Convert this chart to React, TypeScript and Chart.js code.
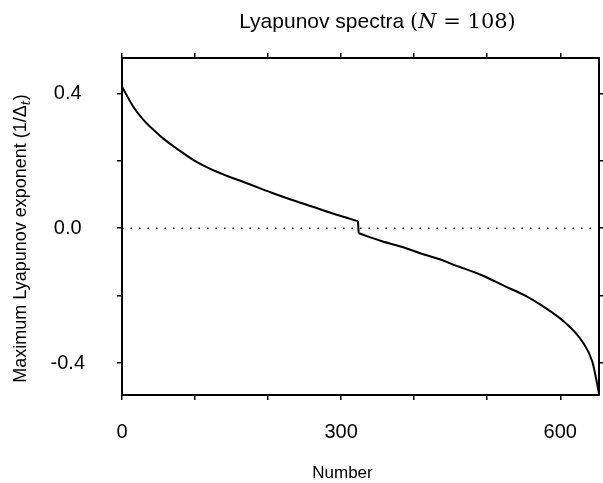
import React, { useEffect, useRef } from "react";
import { Chart, registerables } from "chart.js";

Chart.register(...registerables);

// ---- data ----
const titleText = "Lyapunov spectra";
const titleMath = ["(", "N", " = 108)"];
const xAxisTitle = "Number";
const yAxisTitleMain = "Maximum Lyapunov exponent (1/Δ";
const yAxisTitleSub = "t";
const yAxisTitleEnd = ")";

const xTickValues = [0, 100, 200, 300, 400, 500, 600];
const xLabelValues = [0, 300, 600];
const yTickValues = [-0.4, -0.2, 0, 0.2, 0.4];
const yLabelValues = [-0.4, 0, 0.4];

// positive half of the spectrum (exponent index, value)
const upperIndex = [0, 5, 15, 29, 43, 57, 75, 98, 121, 144, 169, 204, 231, 259, 295, 323];
const upperValue = [
  0.42, 0.4, 0.362, 0.322, 0.292, 0.265, 0.236, 0.202, 0.176, 0.155, 0.135,
  0.106, 0.085, 0.065, 0.039, 0.021,
];
// negative half of the spectrum
const lowerIndex = [324, 355, 387, 410, 435, 451, 492, 524, 552, 575, 607, 630, 644, 653];
const lowerValue = [
  -0.015, -0.038, -0.058, -0.076, -0.092, -0.106, -0.139, -0.172, -0.2, -0.23,
  -0.281, -0.336, -0.397, -0.49,
];
const zeroLineX = [0, 653];
const zeroLineY = [0, 0];

const X_MIN = 0;
const X_MAX = 653;
const Y_MIN = -0.495;
const Y_MAX = 0.505;

const SANS = '"Liberation Sans", Arial, sans-serif';
const SERIF = '"DejaVu Serif", "Liberation Serif", serif';

const textPlugin = {
  id: "customText",
  afterDraw(chart: any) {
    const ctx = chart.ctx as CanvasRenderingContext2D;
    const area = chart.chartArea;
    ctx.save();
    ctx.fillStyle = "#000";
    ctx.textBaseline = "alphabetic";
    ctx.textAlign = "left";

    // Title
    const segs: { t: string; f: string; w?: number }[] = [
      { t: titleText + " ", f: `21px ${SANS}` },
      { t: titleMath[0], f: `21px ${SERIF}` },
      { t: titleMath[1], f: `italic 21px ${SERIF}` },
      { t: titleMath[2], f: `21px ${SERIF}` },
    ];
    let total = 0;
    segs.forEach((s) => {
      ctx.font = s.f;
      s.w = ctx.measureText(s.t).width;
      total += s.w;
    });
    let x = (area.left + area.right) / 2 + 17 - total / 2;
    segs.forEach((s) => {
      ctx.font = s.f;
      ctx.fillText(s.t, x, 28);
      x += s.w as number;
    });

    // X axis title
    ctx.font = `17px ${SANS}`;
    ctx.textAlign = "center";
    ctx.fillText(xAxisTitle, (area.left + area.right) / 2 - 18, 478);

    // Y axis title (rotated, with subscript)
    ctx.save();
    ctx.translate(19, (area.top + area.bottom) / 2 + 12);
    ctx.rotate(-Math.PI / 2);
    ctx.textAlign = "left";
    const mainFont = `18px ${SANS}`;
    const subFont = `italic 12px ${SERIF}`;
    ctx.font = mainFont;
    const w1 = ctx.measureText(yAxisTitleMain).width;
    const w3 = ctx.measureText(yAxisTitleEnd).width;
    ctx.font = subFont;
    const w2 = ctx.measureText(yAxisTitleSub).width;
    const tot = w1 + w2 + w3;
    let tx = -tot / 2;
    ctx.font = mainFont;
    ctx.fillText(yAxisTitleMain, tx, 7);
    tx += w1;
    ctx.font = subFont;
    ctx.fillText(yAxisTitleSub, tx, 11);
    tx += w2;
    ctx.font = mainFont;
    ctx.fillText(yAxisTitleEnd, tx, 7);
    ctx.restore();

    ctx.restore();
  },
};

const gridOpts = {
  drawOnChartArea: false,
  drawTicks: true,
  tickLength: 5,
  color: "#000",
  lineWidth: 1.5,
};
const borderOpts = { display: true, color: "#000", width: 2 };

export default function App() {
  const canvasRef = useRef<HTMLCanvasElement | null>(null);

  useEffect(() => {
    if (!canvasRef.current) return;
    const upper = upperIndex.map((v, i) => ({ x: v, y: upperValue[i] }));
    const lower = lowerIndex.map((v, i) => ({ x: v, y: lowerValue[i] }));
    const jump = [upper[upper.length - 1], lower[0]];
    const zero = zeroLineX.map((v, i) => ({ x: v, y: zeroLineY[i] }));

    const curveStyle = {
      borderColor: "#000",
      borderWidth: 2,
      pointRadius: 0,
      fill: false,
      cubicInterpolationMode: "monotone",
      xAxisID: "x",
      yAxisID: "y",
    };

    const chart = new Chart(canvasRef.current, {
      type: "line",
      data: {
        datasets: [
          {
            data: zero,
            borderColor: "#000",
            borderWidth: 1.5,
            borderDash: [1.5, 7],
            pointRadius: 0,
            fill: false,
            xAxisID: "x",
            yAxisID: "y",
          },
          { data: upper, ...curveStyle },
          { data: jump, ...curveStyle, cubicInterpolationMode: "default", tension: 0 },
          { data: lower, ...curveStyle },
        ],
      },
      options: {
        responsive: false,
        animation: false,
        events: [],
        layout: { padding: 0 },
        plugins: {
          legend: { display: false },
          tooltip: { enabled: false },
          title: { display: false },
        },
        scales: {
          x: {
            type: "linear",
            position: "bottom",
            min: X_MIN,
            max: X_MAX,
            afterBuildTicks: (s: any) => {
              s.ticks = xTickValues.map((v) => ({ value: v }));
            },
            afterFit: (s: any) => {
              s.height = 88;
            },
            ticks: {
              autoSkip: false,
              maxRotation: 0,
              padding: 20,
              color: "#000",
              font: { family: SANS, size: 20 },
              callback: (v: any) => (xLabelValues.includes(Number(v)) ? String(v) : ""),
            },
            grid: gridOpts,
            border: borderOpts,
          },
          x2: {
            type: "linear",
            position: "top",
            min: X_MIN,
            max: X_MAX,
            afterBuildTicks: (s: any) => {
              s.ticks = xTickValues.map((v) => ({ value: v }));
            },
            afterFit: (s: any) => {
              s.height = 58;
            },
            ticks: { autoSkip: false, maxRotation: 0, callback: () => "" },
            grid: gridOpts,
            border: borderOpts,
          },
          y: {
            type: "linear",
            position: "left",
            min: Y_MIN,
            max: Y_MAX,
            afterBuildTicks: (s: any) => {
              s.ticks = yTickValues.map((v) => ({ value: v }));
            },
            afterFit: (s: any) => {
              s.width = 122;
            },
            ticks: {
              autoSkip: false,
              crossAlign: "center",
              padding: 32,
              color: "#000",
              font: { family: SANS, size: 20 },
              callback: (v: any) =>
                yLabelValues.some((l) => Math.abs(l - Number(v)) < 1e-9)
                  ? Number(v).toFixed(1)
                  : "",
            },
            grid: gridOpts,
            border: borderOpts,
          },
          y2: {
            type: "linear",
            position: "right",
            min: Y_MIN,
            max: Y_MAX,
            afterBuildTicks: (s: any) => {
              s.ticks = yTickValues.map((v) => ({ value: v }));
            },
            afterFit: (s: any) => {
              s.width = 4;
            },
            ticks: { autoSkip: false, callback: () => "" },
            grid: gridOpts,
            border: borderOpts,
          },
        },
      } as any,
      plugins: [textPlugin],
    });
    return () => chart.destroy();
  }, []);

  return (
    <div
      style={{
        position: "fixed",
        left: 0,
        top: 0,
        width: 603,
        height: 483,
        background: "#fff",
      }}
    >
      <canvas ref={canvasRef} width={603} height={483} />
    </div>
  );
}
